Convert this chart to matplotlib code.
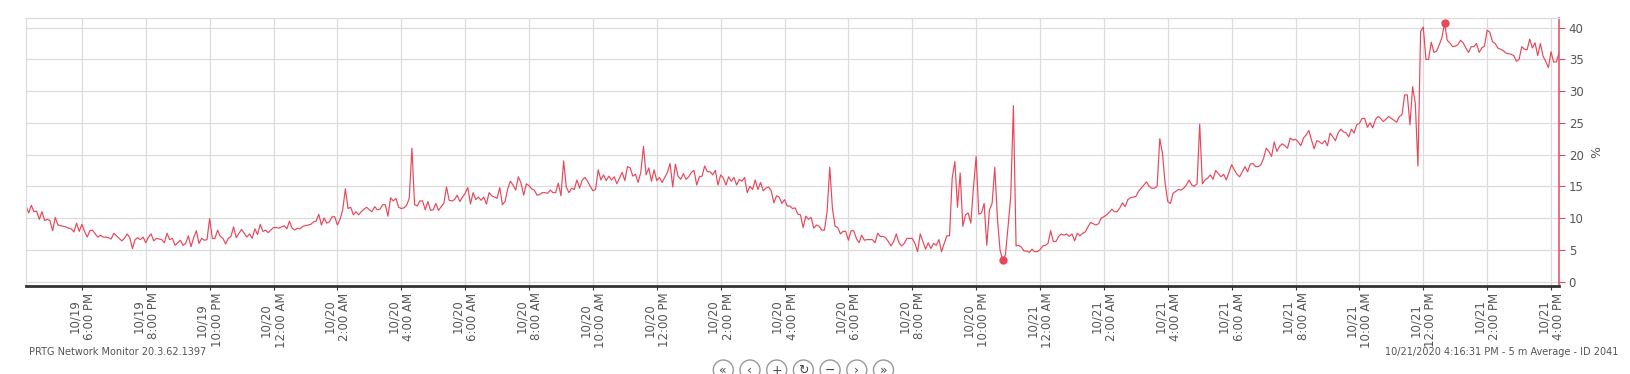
import numpy as np
import pandas as pd
import matplotlib
matplotlib.use("Agg")
import matplotlib.pyplot as plt
import matplotlib.dates as mdates
from matplotlib.patches import Ellipse

# 5 minute averages, 10/19 4:15 PM -> 10/21 4:15 PM (values in %)
load_oct19 = [
    11.9, 10.8, 12.0, 11.0, 11.1, 9.8, 11.0, 9.6, 9.8, 9.6, 8.0, 10.1, 8.9, 8.8, 8.7, 8.6, 8.4, 8.3, 7.8, 9.2, 7.9,
    9.0, 7.9, 7.0, 8.0, 8.1, 7.5, 7.0, 7.3, 7.0, 7.0, 6.9, 6.7, 7.6, 7.2, 6.8, 6.4, 6.8, 7.5, 6.9, 5.2, 6.6, 6.9, 6.6, 7.0,
    6.1, 7.0, 7.5, 6.4, 6.8, 6.7, 6.6, 6.1, 7.6, 6.6, 6.8, 5.7, 6.1, 6.5, 5.7, 6.0, 7.2, 5.5, 6.9, 8.0, 6.0, 6.8, 6.5, 6.6,
    9.9, 6.8, 6.8, 8.1, 7.1, 6.8, 5.9, 6.8, 7.1, 8.6, 6.9, 7.6, 8.2, 7.6, 7.0, 7.5, 6.8, 8.3, 7.4, 9.0, 7.9, 8.1, 7.7, 8.1,
]
load_oct20_am = [
    8.5, 8.5, 8.4, 8.6, 8.8, 8.3, 9.5, 8.4, 8.1, 8.4, 8.3, 8.7, 8.8, 8.9, 9.0, 9.4, 9.5, 10.6, 8.9, 10.0, 9.2, 9.4, 10.2, 10.2,
    8.9, 9.8, 11.3, 14.6, 11.5, 11.7, 10.5, 11.0, 10.5, 11.0, 11.4, 11.7, 11.3, 11.0, 11.8, 11.3, 11.4, 12.1, 12.1, 10.3, 13.2, 12.7, 13.1, 11.7,
    11.5, 11.6, 12.0, 13.1, 21.0, 12.1, 11.9, 12.7, 12.7, 11.3, 12.6, 11.2, 11.3, 12.3, 11.2, 11.8, 12.3, 14.9, 12.8, 12.7, 12.9, 13.6, 12.6, 13.3,
    13.9, 14.8, 12.2, 14.0, 12.9, 13.3, 12.8, 13.3, 12.2, 14.0, 13.5, 13.3, 13.1, 14.8, 12.1, 12.6, 14.6, 15.8, 15.2, 14.4, 16.5, 15.5, 13.6, 15.4,
    15.1, 14.6, 14.4, 13.6, 13.7, 14.0, 14.0, 13.9, 14.4, 14.0, 14.0, 15.5, 13.5, 19.0, 14.9, 14.0, 14.7, 14.5, 16.0, 14.7, 16.0, 16.4, 15.8, 15.0,
    14.3, 14.5, 17.6, 16.0, 16.8, 15.9, 16.6, 16.0, 16.5, 15.4, 16.3, 17.2, 15.9, 18.1, 17.9, 16.6, 16.9, 15.6, 17.2, 21.3, 16.8, 17.9, 15.8, 17.6,
]
load_oct20_pm = [
    15.9, 16.4, 15.6, 16.4, 17.2, 18.6, 14.9, 18.5, 16.6, 16.1, 17.0, 16.1, 16.5, 17.2, 17.5, 15.2, 16.5, 16.6, 18.2, 17.3, 17.3, 16.8, 17.5, 15.2,
    16.8, 16.3, 15.2, 16.5, 15.8, 16.4, 15.2, 16.1, 15.8, 16.4, 14.0, 15.0, 14.5, 16.0, 14.5, 15.6, 14.3, 14.7, 14.9, 14.3, 12.4, 13.5, 13.3, 12.3,
    12.9, 11.9, 11.9, 11.5, 11.6, 10.6, 10.5, 8.5, 10.3, 9.8, 10.1, 8.4, 8.9, 8.7, 8.1, 8.1, 11.0, 18.0, 11.5, 8.7, 8.5, 7.5, 7.9, 7.9,
    6.5, 8.0, 8.0, 6.8, 6.1, 7.3, 6.5, 6.6, 6.6, 6.6, 6.1, 7.6, 7.1, 7.1, 6.9, 6.3, 5.6, 6.3, 7.5, 6.1, 5.6, 6.0, 6.8, 6.8,
    6.8, 6.0, 4.7, 7.5, 6.3, 5.1, 6.1, 5.2, 6.0, 5.7, 6.6, 4.7, 6.0, 7.2, 7.2, 16.3, 18.9, 11.7, 17.1, 8.7, 10.5, 10.8, 9.2, 14.9,
    19.7, 10.6, 10.8, 12.3, 5.7, 11.3, 12.3, 18.0, 9.9, 4.9, 3.4, 4.2, 8.7, 13.4, 27.7, 5.6, 5.7, 5.4, 4.8, 4.8, 4.6, 5.1, 4.7, 4.7,
]
load_oct21 = [
    5.0, 5.6, 5.7, 6.0, 8.0, 6.3, 6.3, 7.1, 7.5, 7.3, 7.5, 7.1, 7.5, 6.4, 7.6, 7.2, 7.6, 7.8, 8.6, 9.3, 9.1, 8.9, 9.1, 10.0,
    10.2, 10.5, 10.9, 11.4, 11.0, 11.0, 11.6, 12.4, 11.8, 12.9, 13.2, 13.3, 13.4, 14.2, 14.7, 15.2, 15.7, 15.0, 14.7, 14.7, 15.0, 22.5, 20.2, 15.5,
    12.6, 12.3, 13.9, 14.2, 14.5, 14.4, 14.7, 15.2, 16.0, 15.2, 15.0, 15.4, 24.8, 15.4, 16.0, 16.3, 16.8, 16.1, 17.5, 17.0, 16.5, 16.9, 16.0, 17.2,
    18.4, 17.6, 16.9, 16.5, 17.3, 18.1, 17.3, 18.5, 18.6, 18.1, 18.1, 18.4, 19.4, 21.0, 20.5, 19.7, 22.0, 20.5, 21.3, 21.7, 21.4, 21.0, 22.6, 22.3,
    22.4, 22.0, 21.4, 22.6, 23.1, 23.8, 22.3, 20.9, 22.2, 22.0, 21.7, 22.2, 21.4, 23.4, 22.8, 22.2, 23.4, 24.0, 23.6, 23.4, 22.8, 24.0, 23.4, 24.7,
    24.9, 25.7, 25.7, 24.3, 25.0, 24.2, 25.5, 26.0, 25.7, 25.2, 25.6, 26.0, 25.7, 25.4, 25.1, 26.0, 26.3, 29.4, 29.4, 24.7, 30.7, 28.1, 18.2, 39.4,
    40.1, 35.0, 35.0, 37.7, 36.1, 36.3, 37.3, 38.4, 40.8, 38.0, 37.6, 37.0, 37.1, 37.3, 38.0, 37.6, 36.8, 36.1, 37.0, 37.0, 37.5, 36.1, 36.8, 37.1,
    39.6, 39.3, 37.8, 37.5, 36.8, 36.6, 36.4, 36.0, 35.9, 35.8, 35.6, 34.7, 35.0, 37.0, 36.6, 36.5, 38.2, 36.8, 37.6, 35.6, 37.5, 35.5, 34.7, 33.7,
    36.2, 34.6, 34.6, 36.0,
]
y_ticks = [0, 5, 10, 15, 20, 25, 30, 35, 40]
footer_left = "PRTG Network Monitor 20.3.62.1397"
footer_right = "10/21/2020 4:16:31 PM - 5 m Average - ID 2041"
nav_buttons = ["\u00ab", "\u2039", "+", "\u21bb", "\u2212", "\u203a", "\u00bb"]

values = np.array(load_oct19 + load_oct20_am + load_oct20_pm + load_oct21)
times = pd.date_range("2020-10-19 16:15", periods=len(values), freq="5min")

RED = "#e8475a"
GRID = "#dcdcdc"
TXT = "#555555"

W, H = 1631, 374
fig = plt.figure(figsize=(W / 100, H / 100), dpi=100)
ax = fig.add_axes([26 / W, 1 - 285.5 / H, (1559 - 26) / W, (285.5 - 17.5) / H])

ax.plot(times, values, color=RED, lw=0.85)
imin, imax = values.argmin(), values.argmax()
ax.plot([times[imin], times[imax]], [values[imin], values[imax]], "o", color=RED, ms=5)

ax.set_xlim(times[0], times[-1])
ax.set_ylim(-0.63, 41.6)
ax.set_yticks(y_ticks)
ax.yaxis.tick_right()
ax.yaxis.set_label_position("right")
ax.set_ylabel("%", color=TXT, fontsize=9, rotation=90, labelpad=5)

ax.xaxis.set_major_locator(mdates.HourLocator(byhour=range(0, 24, 2)))


def fmt_time(x, pos):
    d = mdates.num2date(x)
    hour = d.hour % 12 or 12
    return "%d/%d\n%d:%02d %s" % (d.month, d.day, hour, d.minute, "AM" if d.hour < 12 else "PM")


ax.xaxis.set_major_formatter(plt.FuncFormatter(fmt_time))
ax.tick_params(axis="x", length=3, color="#333333", labelcolor=TXT, labelsize=8.5,
               labelrotation=90, pad=2)
ax.tick_params(axis="y", length=4, color=RED, labelcolor=TXT, labelsize=8.5, pad=3)
for lab in ax.get_xticklabels():
    lab.set_ha("center")
    lab.set_va("top")
    lab.set_multialignment("center")

ax.grid(color=GRID, lw=0.9)
ax.set_axisbelow(True)
for side in ["top", "left"]:
    ax.spines[side].set_color(GRID)
    ax.spines[side].set_linewidth(0.9)
ax.spines["bottom"].set_color("#333333")
ax.spines["bottom"].set_linewidth(2)
ax.spines["right"].set_color(RED)
ax.spines["right"].set_linewidth(1.1)

fig.text(29 / W, 1 - 352 / H, footer_left, fontsize=7, color=TXT, va="center", ha="left")
fig.text(1618 / W, 1 - 352 / H, footer_right, fontsize=7, color=TXT, va="center", ha="right")

for i, sym in enumerate(nav_buttons):
    cx = (723.3 + 26.7 * i) / W
    cy = 1 - 370 / H
    fig.add_artist(Ellipse((cx, cy), 20 / W, 20 / H, transform=fig.transFigure,
                           facecolor="white", edgecolor="#999999", lw=1))
    fig.text(cx, cy, sym, fontsize=9, color="#444444", ha="center", va="center")

fig.savefig("out.png", dpi=100)
